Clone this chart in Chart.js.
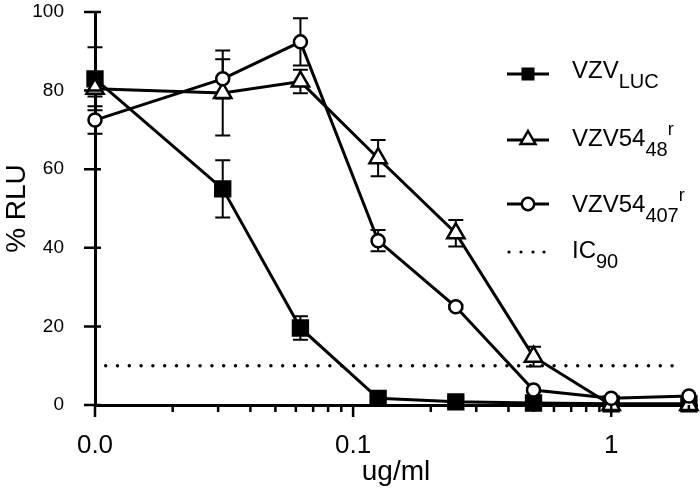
<!DOCTYPE html>
<html>
<head>
<meta charset="utf-8">
<script src="https://cdn.jsdelivr.net/npm/chart.js@4.4.1/dist/chart.umd.min.js"></script>
<style>
html, body { margin: 0; padding: 0; background: #fff; }
#wrap { position: relative; width: 700px; height: 492px; font-family: "Liberation Sans", Arial, sans-serif; }
#chart { position: absolute; left: 0; top: 0; }
.sym { position: absolute; left: 506px; width: 44px; height: 24px; }
.lab { position: absolute; left: 572px; font-size: 24px; line-height: 24px; color: #000; white-space: nowrap; }
.lab sub, .lab sup { font-size: 20px; vertical-align: baseline; position: relative; }
.lab sub { top: 10px; }
.lab sup { top: -11px; font-size: 18px; }
</style>
</head>
<body>
<div id="wrap">
  <canvas id="chart" width="700" height="492"></canvas>

  <!-- 图例: 符号 + 带上下标的文字 -->
  <svg class="sym" style="top:62px" viewBox="0 0 44 24">
    <line x1="1" y1="12" x2="43" y2="12" stroke="#000" stroke-width="3"/>
    <rect x="15.5" y="5.5" width="13" height="13" fill="#000"/>
  </svg>
  <div class="lab" style="top:58px">VZV<sub>LUC</sub></div>

  <svg class="sym" style="top:126px" viewBox="0 0 44 24">
    <line x1="1" y1="14" x2="43" y2="14" stroke="#000" stroke-width="3"/>
    <polygon points="22,5 29.5,18 14.5,18" fill="#fff" stroke="#000" stroke-width="2.5"/>
  </svg>
  <div class="lab" style="top:126px">VZV54<sub>48</sub><sup>r</sup></div>

  <svg class="sym" style="top:192px" viewBox="0 0 44 24">
    <line x1="1" y1="12" x2="43" y2="12" stroke="#000" stroke-width="3"/>
    <circle cx="22" cy="12" r="6.2" fill="#fff" stroke="#000" stroke-width="2.5"/>
  </svg>
  <div class="lab" style="top:192px">VZV54<sub>407</sub><sup>r</sup></div>

  <svg class="sym" style="top:240px" viewBox="0 0 44 24">
    <circle cx="3" cy="12" r="1.6" fill="#000"/>
    <circle cx="15" cy="12" r="1.6" fill="#000"/>
    <circle cx="27" cy="12" r="1.6" fill="#000"/>
    <circle cx="38" cy="12" r="1.6" fill="#000"/>
  </svg>
  <div class="lab" style="top:238px">IC<sub>90</sub></div>
</div>

<script>
// 浓度 (ug/ml), 2倍稀释
const doses = [0.01, 0.03125, 0.0625, 0.125, 0.25, 0.5, 1, 2];

// VZV LUC
const lucMean = [83, 55, 19.6, 1.7, 0.8, 0.5, 0.3, 0.3];
const lucErr  = [8, 7.3, 3, 0.5, 0, 0, 0, 0];

// VZV54 48r
const r48Mean = [80.5, 79.4, 82.3, 62.8, 43.7, 12.3, 0, 0];
const r48Err  = [2, 10.8, 3, 4.6, 3.4, 2.5, 0, 0];

// VZV54 407r
const r407Mean = [72.5, 83, 92.4, 41.8, 25, 3.8, 1.7, 2.3];
const r407Err  = [3.5, 5, 6, 2.7, 0.5, 0.5, 0, 0];

// IC90 参考线
const ic90Level = 10;
const ic90Range = [0.011, 1.75];

// 刻度
const yTicks = [0, 20, 40, 60, 80, 100];
const xTicks = [0.01, 0.02, 0.03, 0.04, 0.05, 0.06, 0.07, 0.08, 0.09,
                0.1, 0.2, 0.3, 0.4, 0.5, 0.6, 0.7, 0.8, 0.9, 1, 2];
const xLabelTicks = [0.01, 0.1, 1];
const xLabelText = ['0.0', '0.1', '1'];

const FONT = '"Liberation Sans", Arial, sans-serif';

function pts(ys) {
    return doses.map((d, i) => ({ x: d, y: ys[i] }));
}

// 误差棒
const errorBars = {
    id: 'errorBars',
    beforeDatasetsDraw(chart) {
        const ctx = chart.ctx;
        const xs = chart.scales.x, ys = chart.scales.y;
        ctx.save();
        ctx.strokeStyle = '#000';
        ctx.lineWidth = 2;
        chart.data.datasets.forEach(ds => {
            if (!ds.err) return;
            ds.data.forEach((p, i) => {
                const e = ds.err[i];
                if (!e) return;
                const px = xs.getPixelForValue(p.x);
                const top = ys.getPixelForValue(p.y + e);
                const bot = ys.getPixelForValue(p.y - e);
                ctx.beginPath();
                ctx.moveTo(px, top); ctx.lineTo(px, bot);
                ctx.moveTo(px - 7.5, top); ctx.lineTo(px + 7.5, top);
                ctx.moveTo(px - 7.5, bot); ctx.lineTo(px + 7.5, bot);
                ctx.stroke();
            });
        });
        ctx.restore();
    }
};

// 坐标轴刻度线 (主刻度更长, y刻度穿过轴线)
const axisTicks = {
    id: 'axisTicks',
    afterDraw(chart) {
        const ctx = chart.ctx;
        const xs = chart.scales.x, ys = chart.scales.y;
        const a = chart.chartArea;
        ctx.save();
        ctx.strokeStyle = '#000';
        ctx.lineWidth = 2.5;
        ctx.beginPath();
        xTicks.forEach(v => {
            const px = xs.getPixelForValue(v);
            const len = xLabelTicks.includes(v) ? 12 : 7;
            ctx.moveTo(px, a.bottom);
            ctx.lineTo(px, a.bottom + len);
        });
        yTicks.forEach(v => {
            const py = ys.getPixelForValue(v);
            ctx.moveTo(a.left - 11, py);
            ctx.lineTo(a.left + 6, py);
        });
        ctx.stroke();
        ctx.restore();
    }
};

const common = {
    borderColor: '#000',
    borderWidth: 3,
    pointBorderColor: '#000',
    pointBorderWidth: 2.5,
    tension: 0,
    fill: false,
    clip: false
};

new Chart(document.getElementById('chart').getContext('2d'), {
    type: 'line',
    data: {
        datasets: [
            Object.assign({}, common, {
                label: 'VZV54 407r',
                data: pts(r407Mean),
                err: r407Err,
                pointStyle: 'circle',
                pointRadius: 6.5,
                pointBackgroundColor: '#fff'
            }),
            Object.assign({}, common, {
                label: 'VZV54 48r',
                data: pts(r48Mean),
                err: r48Err,
                pointStyle: 'triangle',
                pointRadius: 10,
                pointBackgroundColor: '#fff'
            }),
            Object.assign({}, common, {
                label: 'VZV LUC',
                data: pts(lucMean),
                err: lucErr,
                pointStyle: 'rect',
                pointRadius: 10.5,
                pointBackgroundColor: '#000'
            }),
            {
                label: 'IC90',
                data: ic90Range.map(x => ({ x: x, y: ic90Level })),
                borderColor: '#000',
                borderWidth: 3.5,
                borderDash: [0, 11.8],
                borderCapStyle: 'round',
                pointRadius: 0,
                fill: false
            }
        ]
    },
    options: {
        responsive: false,
        animation: false,
        events: [],
        layout: {
            autoPadding: false,
            padding: { top: 12, right: 3, left: 0, bottom: 0 }
        },
        scales: {
            x: {
                type: 'logarithmic',
                min: 0.01,
                max: 2.15,
                afterBuildTicks: s => { s.ticks = xTicks.map(v => ({ value: v })); },
                afterFit: s => { s.height = 87; s.paddingLeft = 0; s.paddingRight = 0; },
                grid: { display: false },
                border: { display: true, color: '#000', width: 3 },
                ticks: {
                    autoSkip: false,
                    maxRotation: 0,
                    padding: 17,
                    color: '#000',
                    font: { size: 26, family: FONT },
                    callback: v => {
                        const i = xLabelTicks.indexOf(v);
                        return i < 0 ? '' : xLabelText[i];
                    }
                },
                title: {
                    display: true,
                    text: 'ug/ml',
                    color: '#000',
                    font: { size: 28, family: FONT },
                    padding: { top: 0, bottom: 3 }
                }
            },
            y: {
                type: 'linear',
                min: 0,
                max: 100,
                afterBuildTicks: s => { s.ticks = yTicks.map(v => ({ value: v })); },
                afterFit: s => { s.width = 95; s.paddingTop = 0; s.paddingBottom = 0; },
                grid: { display: false },
                border: { display: true, color: '#000', width: 3 },
                ticks: {
                    padding: 23,
                    color: '#000',
                    font: { size: 19, family: FONT }
                },
                title: {
                    display: true,
                    text: '% RLU',
                    color: '#000',
                    font: { size: 28, family: FONT },
                    padding: 0
                }
            }
        },
        plugins: {
            legend: { display: false },
            tooltip: { enabled: false }
        }
    },
    plugins: [errorBars, axisTicks]
});
</script>
</body>
</html>
